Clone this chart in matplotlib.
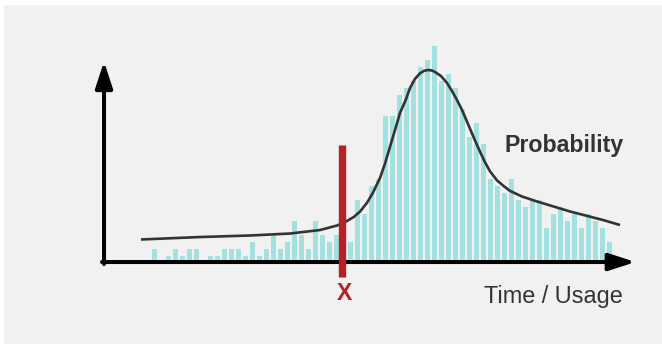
import matplotlib
matplotlib.use("Agg")
import matplotlib.pyplot as plt
from matplotlib.patches import Rectangle

plt.rcParams['font.family'] = ['Liberation Sans', 'DejaVu Sans']

# histogram counts, one per bin (bin index 0..65)
counts = [2, 0, 1, 2, 1, 2, 2, 0, 1, 1, 2, 2, 2, 1, 3, 1, 2, 4, 2, 3,
          6, 4, 2, 6, 4, 3, 4, 2, 3, 9, 7, 11, 12, 21, 21, 24, 25, 26, 28, 29,
          31, 26, 27, 25, 22, 18, 20, 17, 12, 11, 10, 12, 9, 8, 9, 9, 5, 7, 8, 6,
          7, 5, 7, 6, 5, 3]
bins = list(range(len(counts)))

# fitted probability curve (bin units, count units)
curve_x = [-1.93, 6.5, 13.64, 19.36, 23.64, 26.07, 27.5, 28.5, 29.36, 30.36,
           31.21, 32.21, 32.93, 33.64, 34.36, 35.07, 35.93, 36.5, 37.21, 37.93,
           38.5, 39.07, 39.64, 40.07, 40.93, 41.79, 42.5, 43.21, 43.93, 44.64,
           45.79, 46.5, 47.21, 47.93, 48.93, 50.0, 50.79, 52.5, 54.64, 59.36,
           64.07, 66.5]
curve_y = [3.36, 3.71, 3.93, 4.21, 4.71, 5.35, 6.0, 6.6, 7.35, 8.6,
           10.05, 12.14, 14.2, 16.6, 19.0, 21.43, 23.4, 25.0, 26.3, 27.1,
           27.45, 27.57, 27.5, 27.29, 26.71, 25.71, 24.57, 23.29, 21.86, 20.2,
           17.5, 15.9, 14.4, 13.1, 11.8, 10.9, 10.3, 9.5, 8.79, 7.36,
           6.14, 5.43]

threshold = 26.79  # the "X" marker position

fig = plt.figure(figsize=(6.62, 3.44), dpi=100)
fig.patch.set_facecolor('white')
fig.add_artist(Rectangle((4 / 662, 0), 1, 1 - 5 / 344, transform=fig.transFigure,
                         facecolor='#f0f1f0', edgecolor='none', zorder=0))

ax = fig.add_axes([0, 0, 1, 1])
ax.set_facecolor('none')
ax.set_xlim(-22.07, 72.5)
ax.set_ylim(-11.57, 37.57)
ax.axis('off')

ax.bar(bins, counts, width=0.8, color='#a3e0e0', zorder=1)
ax.plot(curve_x, curve_y, color='#333333', lw=1.9, zorder=2,
        solid_joinstyle='round', solid_capstyle='butt')

# axes with arrowheads
arrow = dict(arrowstyle='-|>,head_length=0.8,head_width=0.26', color='black',
             lw=2.9, mutation_scale=20, shrinkA=0, shrinkB=0)
ax.annotate('', xy=(68.7, 0.14), xytext=(-7.5, 0.14), arrowprops=arrow, zorder=3)
ax.annotate('', xy=(-7.21, 28.8), xytext=(-7.21, -0.14), arrowprops=arrow, zorder=3)

ax.plot([threshold, threshold], [16.86, -2.0], color='#b22226', lw=5.3,
        solid_capstyle='butt', zorder=4)

ax.text(threshold + 0.4, -4.29, 'X', color='#b22226', fontsize=16.5,
        fontweight='bold', ha='center', va='center')
ax.text(67.07, 15.86, 'Probability', color='#333333', fontsize=16.7,
        fontweight='bold', ha='right', va='baseline')
ax.text(66.93, -5.67, 'Time / Usage', color='#333333', fontsize=16.9,
        ha='right', va='baseline')

fig.savefig('out.png', dpi=100)
